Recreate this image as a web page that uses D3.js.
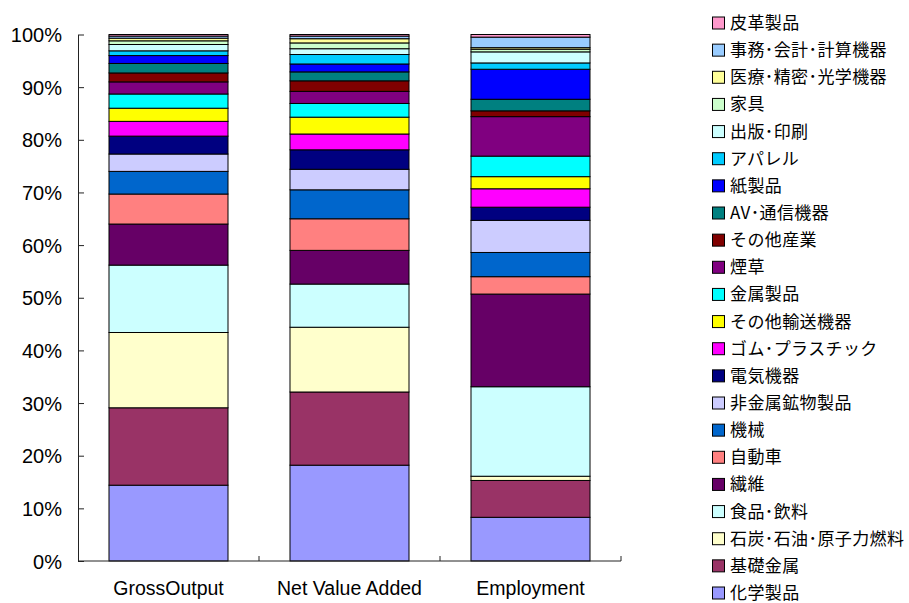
<!DOCTYPE html>
<html>
<head>
<meta charset="utf-8">
<script src="https://cdn.jsdelivr.net/npm/d3@7"></script>
<style>
  html, body { margin: 0; padding: 0; background: #fff; }
  svg { display: block; }
</style>
</head>
<body>
<svg id="chart" width="909" height="603"></svg>
<script>
// Industry shares (%) by measure, listed bottom-to-top of each stacked bar
const categories = ["GrossOutput", "Net Value Added", "Employment"];

const industries = [
  "化学製品", "基礎金属", "石炭･石油･原子力燃料", "食品･飲料", "繊維",
  "自動車", "機械", "非金属鉱物製品", "電気機器", "ゴム･プラスチック",
  "その他輸送機器", "金属製品", "煙草", "その他産業", "AV･通信機器",
  "紙製品", "アパレル", "出版･印刷", "家具", "医療･精密･光学機器",
  "事務･会計･計算機器", "皮革製品"
];

const grossOutput   = [14.4, 14.7, 14.3, 12.8, 7.8, 5.7, 4.3, 3.3, 3.4, 2.8, 2.5, 2.7, 2.3, 1.7, 1.8, 1.5, 0.9, 1.2, 0.7, 0.5, 0.4, 0.3];
const netValueAdded = [18.2, 13.9, 12.3, 8.2, 6.4, 6.0, 5.5, 3.9, 3.7, 3.0, 3.2, 2.6, 2.3, 2.0, 1.7, 1.5, 1.8, 1.1, 1.1, 0.8, 0.5, 0.3];
const employment    = [8.3, 7.0, 0.8, 17.0, 17.6, 3.3, 4.6, 6.1, 2.5, 3.5, 2.3, 3.9, 7.5, 1.1, 2.2, 5.7, 1.2, 2.1, 0.5, 0.3, 2.0, 0.5];

const colors = [
  "#9999FF", "#993366", "#FFFFCC", "#CCFFFF", "#660066",
  "#FF8080", "#0066CC", "#CCCCFF", "#000080", "#FF00FF",
  "#FFFF00", "#00FFFF", "#800080", "#800000", "#008080",
  "#0000FF", "#00CCFF", "#CCFFFF", "#CCFFCC", "#FFFF99",
  "#99CCFF", "#FF99CC"
];

const yTicks = [0, 0.1, 0.2, 0.3, 0.4, 0.5, 0.6, 0.7, 0.8, 0.9, 1.0];

// Build row-per-category table for d3.stack
const measures = [grossOutput, netValueAdded, employment];
const table = categories.map((c, ci) => {
  const row = { category: c };
  industries.forEach((name, i) => { row[name] = measures[ci][i]; });
  return row;
});

const svg = d3.select("#chart");
const plot = { left: 78, right: 621, top: 34.5, bottom: 561 };

const x = d3.scaleBand()
  .domain(categories)
  .range([plot.left, plot.right])
  .paddingInner(0.3425)
  .paddingOuter(0.17125);

const y = d3.scaleLinear().domain([0, 1]).range([plot.bottom, plot.top]);

const color = d3.scaleOrdinal().domain(industries).range(colors);

const stack = d3.stack().keys(industries).offset(d3.stackOffsetExpand);
const series = stack(table);

// Stacked bars
svg.append("g")
  .selectAll("g")
  .data(series)
  .join("g")
    .attr("fill", d => color(d.key))
  .selectAll("rect")
  .data(d => d)
  .join("rect")
    .attr("x", d => x(d.data.category))
    .attr("width", x.bandwidth())
    .attr("y", d => y(d[1]))
    .attr("height", d => y(d[0]) - y(d[1]))
    .attr("stroke", "#000")
    .attr("stroke-width", 1);

// Y axis: ticks point into the plot area
const yAxis = d3.axisRight(y)
  .tickValues(yTicks)
  .tickFormat(d3.format(".0%"))
  .tickSize(6)
  .tickSizeOuter(0);

const gy = svg.append("g")
  .attr("transform", `translate(${plot.left},0)`)
  .call(yAxis);
gy.select(".domain").attr("stroke", "#222");
gy.selectAll(".tick line").attr("stroke", "#222");
gy.selectAll(".tick text")
  .attr("x", -16)
  .attr("text-anchor", "end")
  .attr("dy", "0.35em")
  .attr("fill", "#000")
  .style("font-family", "'Liberation Sans', Arial, sans-serif")
  .style("font-size", "20px");

// X axis: category divider ticks point upward into the plot
const boundaries = categories.map((c, i) => plot.left + x.step() * (i + 1));
const xAxisG = svg.append("g");
xAxisG.append("line")
  .attr("x1", plot.left).attr("x2", plot.right)
  .attr("y1", plot.bottom).attr("y2", plot.bottom)
  .attr("stroke", "#222");
xAxisG.selectAll("line.tick")
  .data(boundaries)
  .join("line")
    .attr("class", "tick")
    .attr("x1", d => d).attr("x2", d => d)
    .attr("y1", plot.bottom).attr("y2", plot.bottom - 5)
    .attr("stroke", "#222");
xAxisG.selectAll("text")
  .data(categories)
  .join("text")
    .attr("x", d => x(d) + x.bandwidth() / 2)
    .attr("y", 595)
    .attr("text-anchor", "middle")
    .style("font-family", "'Liberation Sans', Arial, sans-serif")
    .style("font-size", "19.5px")
    .text(d => d);

// Legend, top entry is the top segment of the stack
const legendItems = industries.slice().reverse();
const legend = svg.append("g");
const rowY = d3.scalePoint().domain(legendItems).range([23, 593]);
const item = legend.selectAll("g")
  .data(legendItems)
  .join("g")
    .attr("transform", d => `translate(712.5,${rowY(d)})`);
item.append("rect")
  .attr("x", 0).attr("y", -6)
  .attr("width", 12).attr("height", 12)
  .attr("fill", d => color(d))
  .attr("stroke", "#000")
  .attr("stroke-width", 1);
item.append("text")
  .attr("x", 17.5)
  .attr("dy", "0.35em")
  .style("font-family", "'Noto Sans CJK JP', 'Noto Sans', sans-serif")
  .style("font-size", "17px")
  .style("letter-spacing", "0.4px")
  .text(d => d);
</script>
</body>
</html>
